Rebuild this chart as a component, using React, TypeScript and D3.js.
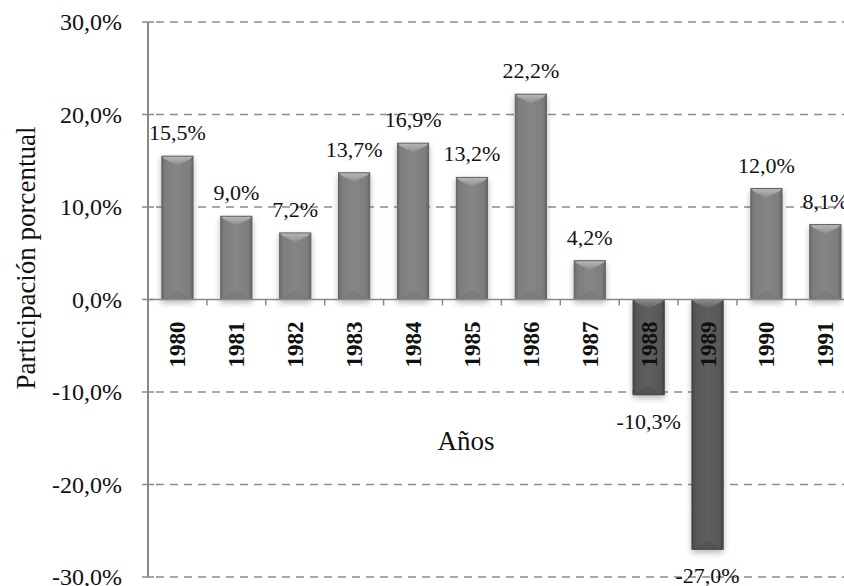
import React from "react";
import * as d3 from "d3";

const years = ["1980", "1981", "1982", "1983", "1984", "1985", "1986", "1987", "1988", "1989", "1990", "1991"];
const values = [15.5, 9.0, 7.2, 13.7, 16.9, 13.2, 22.2, 4.2, -10.3, -27.0, 12.0, 8.1];
const yTicks = [-30, -20, -10, 0, 10, 20, 30];
const gridValues = [-30, -20, -10, 10, 20, 30];

const W = 844;
const H = 586;
const axisX = 148;
const step = 58.9;
const FONT = "'Liberation Serif', 'Times New Roman', serif";

const fmt = (v: number) => v.toFixed(1).replace(".", ",") + "%";

export default function App() {
  const x = d3
    .scaleBand<string>()
    .domain(years)
    .range([axisX, axisX + step * years.length])
    .paddingInner(0.47)
    .paddingOuter(0.235);
  const y = d3.scaleLinear().domain([-30, 30]).range([577, 22]);
  const y0 = y(0);
  const bw = x.bandwidth();
  const boundaries = d3.range(years.length + 1).map((i) => axisX + i * step);

  return (
    <div style={{ position: "fixed", left: 0, top: 0 }}>
      <svg width={W} height={H} style={{ display: "block", background: "#fff" }}>
        <defs>
          <linearGradient id="gPos" x1="0" x2="1" y1="0" y2="0">
            <stop offset="0" stopColor="#6c6c6c" />
            <stop offset="0.12" stopColor="#7e7e7e" />
            <stop offset="0.5" stopColor="#858585" />
            <stop offset="0.88" stopColor="#7e7e7e" />
            <stop offset="1" stopColor="#666" />
          </linearGradient>
          <linearGradient id="gNeg" x1="0" x2="1" y1="0" y2="0">
            <stop offset="0" stopColor="#484848" />
            <stop offset="0.12" stopColor="#585858" />
            <stop offset="0.5" stopColor="#5e5e5e" />
            <stop offset="0.88" stopColor="#585858" />
            <stop offset="1" stopColor="#444" />
          </linearGradient>
          <linearGradient id="gTopPos" x1="0" x2="0" y1="0" y2="1">
            <stop offset="0" stopColor="#b8b8b8" />
            <stop offset="1" stopColor="#8e8e8e" />
          </linearGradient>
          <linearGradient id="gTopNeg" x1="0" x2="0" y1="0" y2="1">
            <stop offset="0" stopColor="#8a8a8a" />
            <stop offset="1" stopColor="#626262" />
          </linearGradient>
          <filter id="shadow" x="-50%" y="-20%" width="200%" height="140%">
            <feGaussianBlur in="SourceAlpha" stdDeviation="3" />
            <feOffset dx="0" dy="3" result="b" />
            <feComponentTransfer>
              <feFuncA type="linear" slope="0.28" />
            </feComponentTransfer>
            <feMerge>
              <feMergeNode />
              <feMergeNode in="SourceGraphic" />
            </feMerge>
          </filter>
        </defs>

        {/* gridlines */}
        {gridValues.map((v) => (
          <line
            key={"g" + v}
            x1={axisX + 8}
            x2={W}
            y1={y(v)}
            y2={y(v)}
            stroke="#8c8c8c"
            strokeWidth={1.5}
            strokeDasharray="8,6"
          />
        ))}

        {/* bars */}
        {years.map((yr, i) => {
          const v = values[i];
          const bx = x(yr)!;
          const top = Math.min(y(v), y0);
          const bot = Math.max(y(v), y0);
          const neg = v < 0;
          const bevel = 9;
          return (
            <g key={yr} filter="url(#shadow)">
              <rect x={bx} y={top} width={bw} height={bot - top} fill={neg ? "url(#gNeg)" : "url(#gPos)"} />
              <polygon
                points={`${bx},${top} ${bx + bw},${top} ${bx + bw - 3},${top + 3} ${bx + bw / 2},${top + bevel} ${bx + 3},${top + 3}`}
                fill={neg ? "url(#gTopNeg)" : "url(#gTopPos)"}
              />
              <polygon
                points={`${bx},${bot} ${bx + bw},${bot} ${bx + bw / 2},${bot - bevel}`}
                fill={neg ? "#505050" : "#787878"}
                opacity={0.7}
              />
              <rect x={bx} y={top} width={bw} height={bot - top} fill="none" stroke={neg ? "#404040" : "#626262"} strokeWidth={1} />
            </g>
          );
        })}

        {/* axes */}
        <line x1={axisX} x2={axisX} y1={y(30)} y2={y(-30)} stroke="#888" strokeWidth={2} />
        <line x1={axisX} x2={W} y1={y0} y2={y0} stroke="#888" strokeWidth={1.5} />
        {yTicks.map((v) => (
          <line key={"yt" + v} x1={axisX - 6} x2={axisX + 6} y1={y(v)} y2={y(v)} stroke="#888" strokeWidth={1.5} />
        ))}
        {boundaries.map((bx, i) => (
          <line key={"xt" + i} x1={bx} x2={bx} y1={y0} y2={y0 + 6} stroke="#888" strokeWidth={1.5} />
        ))}

        {/* y tick labels */}
        {yTicks.map((v) => (
          <text key={"yl" + v} x={122} y={y(v) + 8} textAnchor="end" fontFamily={FONT} fontSize={24} fill="#111">
            {fmt(v)}
          </text>
        ))}

        {/* year labels */}
        {years.map((yr) => (
          <text
            key={"yr" + yr}
            transform={`translate(${x(yr)! + bw / 2 + 8},${y0 + 22}) rotate(-90)`}
            textAnchor="end"
            fontFamily={FONT}
            fontWeight="bold"
            fontSize={23}
            fill="#111"
          >
            {yr}
          </text>
        ))}

        {/* data labels */}
        {years.map((yr, i) => {
          const v = values[i];
          const cx = x(yr)! + bw / 2;
          const ly = v >= 0 ? y(v) - 16 : y(v) + 34;
          return (
            <text key={"dl" + yr} x={cx} y={ly} textAnchor="middle" fontFamily={FONT} fontSize={22} fill="#111">
              {fmt(v)}
            </text>
          );
        })}

        {/* axis titles */}
        <text x={466} y={450} textAnchor="middle" fontFamily={FONT} fontSize={27} fill="#111">
          Años
        </text>
        <text transform={`translate(35,258) rotate(-90)`} textAnchor="middle" fontFamily={FONT} fontSize={27} fill="#111">
          Participación porcentual
        </text>
      </svg>
    </div>
  );
}
